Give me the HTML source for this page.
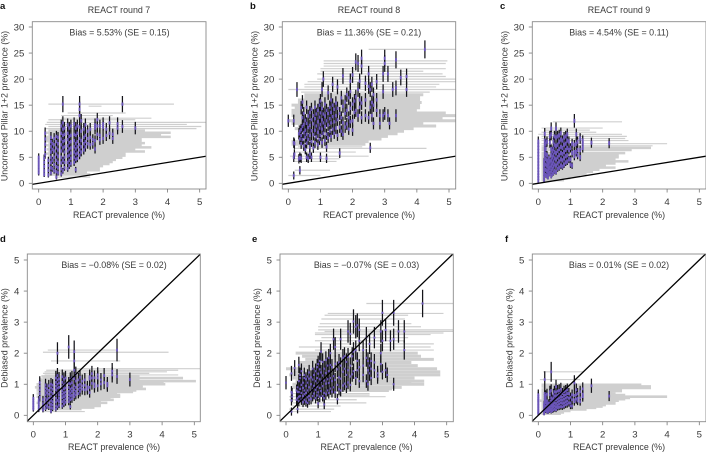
<!DOCTYPE html>
<html>
<head>
<meta charset="utf-8">
<style>
html,body{margin:0;padding:0;background:#fff;width:706px;height:452px;overflow:hidden}
svg{display:block}
text{font-family:"Liberation Sans",sans-serif;fill:#3a3a3a;font-size:8.9px}
.t{text-anchor:middle}
.l{font-weight:bold;fill:#111;font-size:9.5px}
</style>
</head>
<body>
<svg id="fig" width="706" height="452" viewBox="0 0 706 452" xmlns="http://www.w3.org/2000/svg">
<g>
<text class="l" x="0" y="9">a</text>
<text class="t" x="119" y="13">REACT round 7</text>
<text class="t" x="119.5" y="35.5">Bias = 5.53% (SE = 0.15)</text>
<text class="t" x="119" y="218">REACT prevalence (%)</text>
<text class="t" transform="translate(7.5,106) rotate(-90)">Uncorrected Pillar 1+2 prevalence (%)</text>
</g>
<g>
<text class="l" x="250" y="9">b</text>
<text class="t" x="369" y="13">REACT round 8</text>
<text class="t" x="369" y="35.5">Bias = 11.36% (SE = 0.21)</text>
<text class="t" x="369" y="218">REACT prevalence (%)</text>
<text class="t" transform="translate(257.5,106) rotate(-90)">Uncorrected Pillar 1+2 prevalence (%)</text>
</g>
<g>
<text class="l" x="500" y="9">c</text>
<text class="t" x="619" y="13">REACT round 9</text>
<text class="t" x="619" y="35.5">Bias = 4.54% (SE = 0.11)</text>
<text class="t" x="619" y="218">REACT prevalence (%)</text>
<text class="t" transform="translate(507.5,106) rotate(-90)">Uncorrected Pillar 1+2 prevalence (%)</text>
</g>
<g>
<text class="l" x="0" y="242">d</text>
<text class="t" x="114" y="268">Bias = −0.08% (SE = 0.02)</text>
<text class="t" x="114" y="450">REACT prevalence (%)</text>
<text class="t" transform="translate(7.5,338) rotate(-90)">Debiased prevalence (%)</text>
</g>
<g>
<text class="l" x="252" y="242">e</text>
<text class="t" x="366.500" y="268">Bias = −0.07% (SE = 0.03)</text>
<text class="t" x="366.500" y="450">REACT prevalence (%)</text>
<text class="t" transform="translate(260,338) rotate(-90)">Debiased prevalence (%)</text>
</g>
<g>
<text class="l" x="505" y="242">f</text>
<text class="t" x="619" y="268">Bias = 0.01% (SE = 0.02)</text>
<text class="t" x="619" y="450">REACT prevalence (%)</text>
<text class="t" transform="translate(512.500,338) rotate(-90)">Debiased prevalence (%)</text>
</g>
</svg>
<script>
const xTickLabels = [0, 1, 2, 3, 4, 5];
const pillarTickLabels = [0, 5, 10, 15, 20, 25, 30];
const debiasedTickLabels = [0, 1, 2, 3, 4, 5];

// Round 7: REACT prevalence columns with per-column estimates
const round7X = [0,.17,.2,.3,.38,.42,.48,.55,.6,.7,.75,.8,.9,.95,1,1.1,1.15,1.2,1.27,1.32,1.4,1.45,1.52,1.6,1.68,1.75,1.82,1.9,2,2.1,2.2,2.3,2.45,2.6,3];
const round7Pillar = [
[2,2.6,3.2,3.8,4.4,5],[1.7,2.4,3.2,4,4.8],[5.5,6.5,7.5,8.5,9.6],[1.6,2.5,3.4,4.4],
[2,3,4,5,6,7,8,8.8],[2.8,4.4,6.5,7.6],[2.4,3.6,5,6.2,7.4,8.6],[1.2,2.2,3.2,4.4,5.6,6.8,8,9],
[2,3,4,5.2,6.4,7.6,8.8],[1.8,2.8,3.9,5,6.2,7.4,8.5,9.6,11],[2.4,4.4,6.8,8,9.2,10.4,11.6,15.2],
[3,4,5,6,7,8.2,9.4,10.6],[2.8,4,5.2,6.2,7.2,8.4,9.6,11.2],[3.4,4.4,5.4,6.6,7.8,9,10.6],
[3.8,4.8,5.8,6.8,8,9.2,11],[4,5,6,7,8.2,9.4,11.4],[2.6,4.6,5.6,6.6,7.6,9.2,10.6],
[4.8,5.8,7,8,9.6,11],[5.4,6.4,7.4,8.6,10.8,13,14.2,15.2],[6,7,8.2,10,12],[6.4,7.6,8.8,10.4],
[7,8,9.2,11.2],[7.6,8.6,10],[7.4,8.8,10.4],[7.6,8.4],[6.6,8.2,10.6,11.2],[9.4,11,12.2],[8.4,9.2,11],[8.6,10.8,11.4],
[9.2,10.4],[9.6,11.6],[8.6,9.4],[10.6,11.4],[10.9,15.2],[10.6]];
const round7Debiased = [
[.2,.26,.33,.4,.47,.55],[.18,.26,.35,.43,.5],[.58,.7,.82,.94,1.05],[.17,.27,.37,.5],
[.22,.33,.43,.55,.66,.77,.88,.98],[.3,.5,.72,.85],[.26,.4,.55,.68,.8,.95],[.13,.24,.35,.48,.6,.75,.88,1],
[.22,.33,.44,.57,.7,.84,.97],[.2,.3,.43,.55,.68,.82,.94,1.06,1.2],[.27,.48,.75,.88,1,1.14,1.28,2],
[.33,.44,.55,.66,.77,.9,1.04,1.17],[.3,.44,.57,.68,.79,.92,1.06,1.24],[.37,.48,.6,.72,.86,.98,1.16],
[.42,.53,.64,.75,.88,1.01,1.2],[.44,.55,.66,.77,.9,1.03,2.2],[.28,.5,.62,.72,.84,1.01,1.16],
[.53,.64,.77,.88,1.05,1.2],[.6,.7,.82,.95,1.18,1.45,1.75,2.05],[.66,.77,.9,1.1,1.32],[.7,.84,.97,1.14],
[.77,.88,1,1.22],[.84,.95,1.1],[.82,.97,1.14],[.84,.92],[.73,.9,1.17,1.24],[1.03,1.2,1.34],[.92,1.01,1.21],[.95,1.2,1.3],
[1.01,1.14],[1.05,1.28],[.95,1.03],[1.3,1.42],[1.25,2.1],[1.15]];

const round7GrayY = [15.2,14.8,13.5,13,12.5,12.2,11.7,11.3,10.9,10.5,10.1,9.7,9.3,8.9,8.5,8.1,7.7,7.3,6.9,6.5,6.1,5.7,5.3,4.9,4.5,4.1,3.7,3.3,2.9,2.5,2.1,1.7,1.2];
const round7GrayLo = [.3,1.55,.9,.7,.7,.3,.25,.2,.3,.2,.3,.2,.3,.2,.2,.2,.3,.2,.3,.25,.3,.2,.3,.3,.3,.3,.3,.3,.3,.3,.3,.3,.5];
const round7GrayHi = [4.2,1.95,2.7,2.3,3.5,3,5.3,4.6,5.05,4.9,3.3,4.1,3.8,4.1,3.2,3.2,3.3,3.2,3.5,3,3.3,2.7,2.7,2.6,2.4,2.3,2.2,2,1.9,1.9,1.5,1.6,1.6];
const debiased7GrayY = [2.1,2.03,1.75,1.5,1.45,1.4,1.35,1.3,1.25,1.2,1.15,1.1,1.05,1,.95,.9,.85,.8,.75,.7,.65,.6,.55,.5,.45,.4,.35,.3,.25,.2,.12];
const debiased7GrayLo = [.45,.3,.55,1.3,.4,.35,.3,.35,.25,.3,.2,.2,.25,.1,.1,.05,.1,.1,.15,.1,.2,.1,.15,.2,.2,.1,.2,.15,.2,.2,.3];
const debiased7GrayHi = [2.6,4.2,2.7,5.3,4.5,4.15,3.6,4.5,3.3,4.65,3.3,5.05,4.05,4.1,3.4,3.4,3.5,3.2,3.1,2.6,2.7,2.7,2.4,2.5,2.1,2.3,2.1,2.1,1.9,1.5,1.6];

// Round 8
const round8X = [0,.17,.19,.27,.33,.36,.4,.44,.48,.53,.57,.62,.67,.72,.78,.83,.87,.92,.97,1,1.05,1.09,1.14,1.19,1.24,1.29,1.33,1.38,1.43,1.48,1.53,1.6,1.65,1.7,1.77,1.82,1.88,1.93,2,2.06,2.1,2.17,2.22,2.28,2.4,2.5,2.55,2.6,2.65,2.75,2.85,2.95,3,3.1,3.15,3.25,3.35,3.5,3.68,4.25];
const round8Pillar = [
[12],[1.5,5,7.8,12],[5.6,7.6],[18],[4.7,9.5],[2.5,5,8.5,10],
[4.8,7.6,9.2,10.3,14.5],[8.4,10.9,12.6,15.6],[7.2,9.7,11.3,13.4],[6.5,8.8,10.2,12.1],[5,7.7,9.4,11.5,14.6],[4.8,8.4,10.7,12.9],
[5.6,7,9.2,11.1,13.6],[5,8,10.1,12.2,14.2],[6.8,9.3,11.4,13],[7.8,10.2,12.4,14.6],[8.9,11,13.3],[7.4,9.8,11.8,14],
[8.4,10.6,12.7,15],[5,9.2,11.3,13.5,15.8],[7.8,10.4,12.2,14.4,18],[9.6,11.6,13.3,20],[8.2,10.9,12.9,15.2],[4.8,7,9.4,12,14],
[8.8,11.2,13.4,17.4],[10,12.4,14.6],[9,11.6,13.6,16],[10.4,12.8,15,19],[9.6,11.8,14.2],[10.6,13,15.4],[9.2,12.2,14.4,18.5],
[5.8,10.8,13.4],[10,12.6,16.4],[9.4,11.6,14.8,20.6],[10.8,13.4,15.6],[11.4,14,17],[10.4,12.6,16.4],[11.8,14.4,17.6,19.6],
[10.2,12,15.2,20.8],[13.6,15.8],[14,16.6,23.3],[13,18,23],[14.6,16,19.6],[12.6,15.4,22.5,24],
[13,16,19.2],[12.6,18.6,21],[18,6.8,14.6],[13,15.5,19],[11.5,17,15],[14,16,19.5],[11.5,13],[13,17.6,21],[23,24,13.4],
[13,21],[11.5],[18],[13,18.3,23.7],[20.3],[18,20.5],[25.7]];
const round8Debiased = [
[1.05],[.12,.48,.75,1.35],[.6,.7],[1.52],[.5,.8],[.2,.55,.75,.9],
[.45,.6,.75,1.1,1.62],[.62,.85,1.3,1.2],[.5,.72,.98,1.42],[.42,.62,.88,1.05],[.5,.68,.8,1.2,1.3],[.44,.72,.95,1.16],
[.4,.58,.8,1.05,1.25],[.5,.62,.9,1.18,1.38],[.52,.78,1,1.22],[.62,.85,1.15,1.5],[.7,.95,1.3],[.55,.82,1.1,1.42],
[.64,.92,1.2,1.55],[.38,.74,1.02,1.34,1.65],[.6,.88,1.16,1.48,1.75],[.78,1.08,1.38,2.05],[.62,.94,1.28,1.72],[.35,.55,.72,1.12,1.5],
[.68,1.02,1.36,1.78],[.8,1.16,1.6],[.72,1.04,1.42,1.85],[.86,1.2,1.62,2],[.76,1.1,1.55],[.9,1.26,2.45],[.74,1.14,1.66,2.2],
[.52,.98,1.48],[.84,1.22,1.7],[.8,1.18,1.6,2.45],[.96,1.4,1.85],[1.02,1.5,1.9],[.92,1.3,1.72],[1.06,1.45,1.88,2.7],
[.98,1.25,1.6,2.62],[1.32,1.9],[1.42,2.05,3.02],[1.2,2.1,2.85],[1.45,1.75,2.9],[1.1,1.55,2.4,2.75],
[1.3,1.6,2.1],[1.1,1.85,2.5],[1.75,1,1.45],[1.35,1.6,2.3],[1.2,1.75,1.5],[1.45,1.7,2.5],[1.25,1.35],[1.65,2,2.7],[1.4,2.4,3.3],
[1.45,2.75],[1.3],[2.4],[1,2.45,3.3],[2.7],[2.1,2.7],[3.6]];

const round8GrayY = [25.7,23.5,23,22.5,22,21.5,21,20.5,20,19.5,19,18.5,18,17.5,17,16.5,16,15.5,15,14.5,14,13.5,13,12.5,12,11.5,11,10.5,10,9.5,9,8.5,8,7.5,7,6.7,6,5.2,4.7,4.2,2.5,1.5];
const round8GrayLo = [2.5,1.1,1.1,1.1,1,1,.9,1.1,.9,.6,.5,.5,0,.4,.5,.5,.3,.3,.1,.2,.1,.1,.1,.2,0,.1,.3,.2,.3,.3,.3,.3,.1,.1,.3,.2,.2,.05,.2,.2,.2,0];
const round8GrayHi = [5.3,4.95,4.9,3.4,4.9,4.2,4.8,4.9,5.3,5.3,4.7,4.6,5.3,4.4,4.2,4.1,4.1,4.15,4.1,4.1,4,4.9,5.3,4.8,5.3,4.2,4.6,3.9,3.6,3.4,3.1,2.9,2.5,2.4,2.3,4.3,2.1,2.5,1.6,1.5,1.3,1];
const debiased8GrayY = [3.6,3.28,3.22,3.1,2.95,2.85,2.75,2.7,2.65,2.6,2.5,2.4,2.3,2.2,2.1,2,1.9,1.8,1.7,1.6,1.5,1.4,1.3,1.2,1.1,1.05,1,.9,.85,.8,.7,.65,.6,.5,.4,.3,.2,.12];
const debiased8GrayLo = [2.5,1.3,1.2,1.1,1.05,1,1,1.2,.9,.9,1.1,.9,1.1,.4,.9,.3,.5,.6,.4,.4,0,.2,.1,.2,.3,.3,.2,.2,.3,.3,.2,.3,.1,.1,.2,.2,.1,.1];
const debiased8GrayHi = [5.3,4.9,3.8,3.7,3.9,4.2,5.3,5.3,4.9,4.5,3.8,3.7,4.6,4.5,4.6,4.1,4.2,4.6,3.9,4.1,4.7,4.8,4.8,4,4.3,3.9,4.3,3.6,3.3,3.2,2.6,2.6,3.1,2.2,2.5,1.7,1.5,1.4];

// Round 9
const round9X = [0,.18,.2,.23,.27,.3,.33,.36,.4,.43,.47,.5,.55,.6,.65,.7,.75,.8,.85,.9,.95,1,1.05,1.12,1.18,1.22,1.3,1.38,1.65,2.2];
const round9Pillar = [
[.5,1,1.5,2,2.6,3.2,3.8,4.4,5,5.6,6.2,6.8,7.4,8],[.6,1.2,1.8,2.6,3.4,4.2],[5,5.8,6.6,7.4,8.2,9.5],[1.6,2.6,3.6,4.6,5.6,6.6,7.6],
[1.4,2.4,3.4,4.4,5.4,8],[1.2,2.2,3.2,4.2],[1.8,2.8,3.8,4.8],[2,3,4.2,7.8,9],[1.4,2.4,3.4,4.4,5.4,6.6,9.4,10.5],[1.8,2.8,3.8,5,6.2],
[2,3.2,4.2,5.4,6.6,8],[2.4,3.6,4.8,6,7.4,9],[2.2,3.4,4.6,5.8,7.2,8.8,10.5],[2.8,3.8,5,6.2,7.4,9],[3,4.2,5.4,6.6,8,9.2],[3.4,4.6,5.8,7,8.4,9.6],
[3.2,4.4,5.6,6.8,8.2],[3.6,4.8,6,7.4,8.8],[4,5.2,6.4,7.6,9],[4.2,5.4,6.8,8.2,9.4],[4.6,6.4,8],[3.6,4.6,6.8],[3.4,5.8,7.6],[6,7.4,12,5.2],[6,7.6,9.4],[5.4,6.4,8],[5,6.4,8.6],[6.8,7.6,8.2],[7.8],[7.7]];
const round9Debiased = [
[.05,.08,.12,.17,.22,.27,.32,.37,.42,.47,.5,.55,.6,.66],[.05,.1,.16,.22,.3,.36],[.42,.5,.56,.64,.7,1.15],[.14,.22,.3,.4,.48,.56,.64],
[.12,.2,.3,.38,.46,.68],[.1,.18,.27,.36],[.15,.24,.32,.4],[.17,.26,.36,.66,.76],[.12,.2,.3,.38,.46,.56,.8,1.4],[.15,.24,.32,.42,.52],
[.17,.27,.36,.46,.56,.68],[.2,.3,.4,.5,.62,.76],[.18,.28,.38,.5,.62,.75,.92],[.24,.32,.42,.52,.64,.78],[.26,.36,.46,.56,.68,.8],[.28,.4,.5,.6,.72,.84],
[.27,.38,.48,.58,.7],[.3,.4,.52,.64,.76],[.34,.44,.55,.66,.78],[.36,.46,.58,.7,.82],[.4,.55,.7],[.3,.4,.58],[.3,.5,.66],[.5,.64,1.04,.44],[.52,.66,.82],[.46,.55,.7],[.44,.56,.76],[.6,.68,.85],[.95],[.62]];

const round9GrayY = [11.8,10.6,10.2,9.8,9.4,9,8.6,8.2,7.6,7.2,6.8,6.4,5.8,5.4,5,4.6,4.2,3.8,3.4,3,2.6,2.2,1.8,1.4,1,.6];
const round9GrayLo = [.45,.1,.2,.1,0,.1,.1,.1,.1,.1,.1,.1,.1,.1,.1,.1,.1,.1,.1,.1,.1,.1,.1,.1,.1,.1];
const round9GrayHi = [2.6,2,1.6,1.8,2.6,2.75,2.7,2.8,4,3.55,3.5,2.9,2.7,2.5,2.5,2.4,2.8,2.4,2.1,2.4,1.9,1.7,1.5,1.3,1,.8];
const debiased9GrayY = [1.4,1.15,.98,.93,.88,.83,.78,.74,.7,.65,.6,.56,.52,.47,.43,.38,.33,.28,.24,.19,.14,.09,.05];
const debiased9GrayLo = [.15,.05,.1,.1,.15,.1,.1,.1,.1,.1,.1,.1,.1,.05,.1,.1,.1,.1,.1,.1,.1,.1,.1];
const debiased9GrayHi = [1.4,1.3,3.2,3.5,3.5,2.6,2.6,2.3,2.4,2.7,4,2.85,2.7,2.5,2.4,2.4,2.1,2,1.8,1.5,1,.8,.7];

const svgNS = 'http://www.w3.org/2000/svg';
const fig = document.getElementById('fig');

function addLine(parent, name, x1, y1, x2, y2, color, width) {
  const el = document.createElementNS(svgNS, 'line');
  el.setAttribute('x1', x1);
  el.setAttribute('y1', y1);
  el.setAttribute('x2', x2);
  el.setAttribute('y2', y2);
  el.setAttribute('stroke', color);
  el.setAttribute('stroke-width', width);
  
  
  parent.appendChild(el);
  return el;
}
function addGroup(parent, name) {
  const g = document.createElementNS(svgNS, 'g');
  
  
  parent.appendChild(g);
  return g;
}
function addTick(parent, name, x, y, anchor, label) {
  const t = document.createElementNS(svgNS, 'text');
  t.setAttribute('x', x);
  t.setAttribute('y', y);
  t.setAttribute('text-anchor', anchor);
  t.setAttribute('style', 'font-size:9.6px');
  
  
  t.textContent = label;
  parent.appendChild(t);
}

function drawPanel(cfg) {
  const sx = v => cfg.x0 + v * (cfg.x5 - cfg.x0) / 5;
  const sy = v => cfg.yZero + v * (cfg.yTop - cfg.yZero) / cfg.yTopValue;
  const root = addGroup(fig, 'panel-' + cfg.id);
  const clipId = 'clip-' + cfg.id;
  const defs = document.createElementNS(svgNS, 'defs');
  const clip = document.createElementNS(svgNS, 'clipPath');
  clip.setAttribute('id', clipId);
  const rect = document.createElementNS(svgNS, 'rect');
  rect.setAttribute('x', cfg.left);
  rect.setAttribute('y', cfg.top);
  rect.setAttribute('width', cfg.right - cfg.left);
  rect.setAttribute('height', cfg.bottom - cfg.top);
  clip.appendChild(rect);
  defs.appendChild(clip);
  root.appendChild(defs);

  const marks = addGroup(root, 'panel-' + cfg.id + '-plot-area');
  marks.setAttribute('clip-path', 'url(#' + clipId + ')');
  cfg.grayY.forEach((y, i) => {
    const width = (y <= cfg.solidBelow && y >= cfg.solidAbove) ? cfg.solidWidth : 1.2;
    addLine(marks, 'x-interval-bar', sx(cfg.grayLo[i]), sy(y), sx(cfg.grayHi[i]), sy(y), '#cfcfcf', width);
  });
  cfg.xs.forEach((x, c) => {
    cfg.ys[c].forEach(y => {
      const e = cfg.errBase + cfg.errSlope * y;
      addLine(marks, 'y-interval-whisker', sx(x), sy(y - e), sx(x), sy(y + e), '#14141a', 1.25);
    });
  });
  cfg.xs.forEach((x, c) => {
    cfg.ys[c].forEach(y => {
      addLine(marks, 'estimate-core', sx(x), sy(y - cfg.core), sx(x), sy(y + cfg.core), '#6a55b8', 1.9);
    });
  });
  addLine(marks, 'identity-line', sx(-0.3), sy(-0.3), sx(5.4), sy(5.4), '#000', 1.3);

  const box = document.createElementNS(svgNS, 'rect');
  box.setAttribute('x', cfg.left);
  box.setAttribute('y', cfg.top);
  box.setAttribute('width', cfg.right - cfg.left);
  box.setAttribute('height', cfg.bottom - cfg.top);
  box.setAttribute('fill', 'none');
  box.setAttribute('stroke', '#8a8a8a');
  box.setAttribute('stroke-width', '0.9');
  
  
  root.appendChild(box);

  xTickLabels.forEach(v => {
    addLine(root, 'x-tick', sx(v), cfg.bottom, sx(v), cfg.bottom + 3.5, '#777', 0.8);
    addTick(root, 'x-tick-label', sx(v), cfg.bottom + 16, 'middle', v);
  });
  cfg.yTicks.forEach(v => {
    addLine(root, 'y-tick', cfg.left - 3.5, sy(v), cfg.left, sy(v), '#777', 0.8);
    addTick(root, 'y-tick-label', cfg.left - 8, sy(v) + 3.4, 'end', v);
  });
}

const pillarRow = {top: 21.7, bottom: 189, yZero: 183.3, yTop: 27, yTopValue: 30, yTicks: pillarTickLabels};
const debiasedRow = {top: 254, bottom: 421.7, yZero: 415.3, yTop: 260, yTopValue: 5, yTicks: debiasedTickLabels};

drawPanel({...pillarRow, id: 'a', left: 32.3, right: 206, x0: 38.7, x5: 199.7, xs: round7X, ys: round7Pillar, grayY: round7GrayY, grayLo: round7GrayLo, grayHi: round7GrayHi, solidAbove: 1.5, solidBelow: 10.2, solidWidth: 2.5, errBase: .35, errSlope: .08, core: .32});
drawPanel({...pillarRow, id: 'b', left: 282.3, right: 455.7, x0: 288.3, x5: 449, xs: round8X, ys: round8Pillar, grayY: round8GrayY, grayLo: round8GrayLo, grayHi: round8GrayHi, solidAbove: 7.2, solidBelow: 17, solidWidth: 3, errBase: .7, errSlope: .04, core: .32});
drawPanel({...pillarRow, id: 'c', left: 532.3, right: 706, x0: 538.3, x5: 699.3, xs: round9X, ys: round9Pillar, grayY: round9GrayY, grayLo: round9GrayLo, grayHi: round9GrayHi, solidAbove: .5, solidBelow: 7, solidWidth: 2.5, errBase: .35, errSlope: .08, core: .4});
drawPanel({...debiasedRow, id: 'd', left: 27.3, right: 200.3, x0: 33.3, x5: 194.3, xs: round7X, ys: round7Debiased, grayY: debiased7GrayY, grayLo: debiased7GrayLo, grayHi: debiased7GrayHi, solidAbove: .15, solidBelow: 1.25, solidWidth: 2.6, errBase: .05, errSlope: .15, core: .045});
drawPanel({...debiasedRow, id: 'e', left: 280, right: 453.3, x0: 286, x5: 446.7, xs: round8X, ys: round8Debiased, grayY: debiased8GrayY, grayLo: debiased8GrayLo, grayHi: debiased8GrayHi, solidAbove: .75, solidBelow: 2, solidWidth: 3, errBase: .12, errSlope: .09, core: .035});
drawPanel({...debiasedRow, id: 'f', left: 532.3, right: 706, x0: 538.3, x5: 699.3, xs: round9X, ys: round9Debiased, grayY: debiased9GrayY, grayLo: debiased9GrayLo, grayHi: debiased9GrayHi, solidAbove: .05, solidBelow: 1, solidWidth: 2.6, errBase: .04, errSlope: .2, core: .045});
</script>
</body>
</html>
